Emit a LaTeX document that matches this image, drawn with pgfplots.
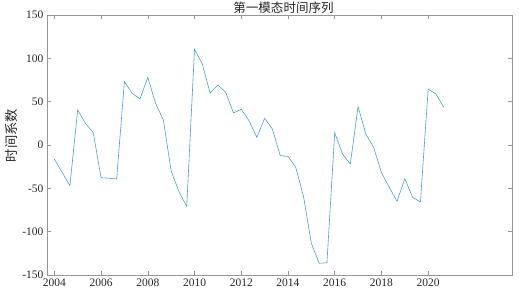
\documentclass[border=0pt]{standalone}
\usepackage{pgfplots}
\pgfplotsset{compat=1.18}
\usepackage{fontspec}
\setmainfont{Liberation Serif}
\newfontfamily\cjk{Noto Sans CJK SC}[Scale=0.95]
\definecolor{linecol}{RGB}{70,160,220}
\definecolor{axcol}{RGB}{150,150,150}
\definecolor{txtcol}{RGB}{38,38,38}
\begin{document}
\begin{tikzpicture}[x=1pt,y=1pt]
\begin{axis}[
  at={(47pt,19pt)}, anchor=south west,
  scale only axis, width=465pt, height=260pt,
  xmin=2003.687, xmax=2023.587, ymin=-150, ymax=150,
  xtick={2004,2006,...,2020}, ytick={-150,-100,...,150},
  xticklabel style={/pgf/number format/1000 sep={}},
  /pgf/number format/assume math mode=true,
  tick align=inside, major tick length=4pt,
  axis line style={axcol, line width=0.5pt},
  every tick/.style={axcol, line width=0.5pt},
  tick label style={font=\fontsize{11.5}{12}\selectfont, text=txtcol},
  title={\cjk 第一模态时间序列},
  title style={font=\fontsize{13.2}{14}\selectfont, text=txtcol, yshift=-8pt, xshift=4pt},
  ylabel={\cjk 时间系数},
  ylabel style={font=\fontsize{14}{15}\selectfont, text=txtcol, at={(ticklabel cs:0.5365)}, yshift=-2pt},
]
\addplot[linecol, line width=0.6pt, mark=none] coordinates {
(2004.000,-16.2) (2004.333,-31.5) (2004.667,-46.9)
(2005.000,40.4) (2005.333,25.0) (2005.667,14.2)
(2006.000,-37.7) (2006.333,-38.3) (2006.667,-39.2)
(2007.000,73.1) (2007.333,59.6) (2007.667,53.1)
(2008.000,78.0) (2008.333,48.1) (2008.667,28.8)
(2009.000,-30.0) (2009.333,-53.8) (2009.667,-70.8)
(2010.000,110.4) (2010.333,93.5) (2010.667,60.0)
(2011.000,69.2) (2011.333,60.8) (2011.667,37.0)
(2012.000,41.2) (2012.333,28.0) (2012.667,8.8)
(2013.000,30.8) (2013.333,18.5) (2013.667,-12.3)
(2014.000,-13.1) (2014.333,-25.8) (2014.667,-59.6)
(2015.000,-113.5) (2015.333,-136.5) (2015.667,-135.8)
(2016.000,14.2) (2016.333,-10.4) (2016.667,-21.9)
(2017.000,44.2) (2017.333,12.7) (2017.667,-2.7)
(2018.000,-31.9) (2018.333,-48.8) (2018.667,-65.0)
(2019.000,-38.8) (2019.333,-60.4) (2019.667,-65.8)
(2020.000,64.6) (2020.333,58.8) (2020.667,43.5)
};
\end{axis}
\pgfresetboundingbox
\path (0,0) rectangle (519,294);
\end{tikzpicture}
\end{document}
